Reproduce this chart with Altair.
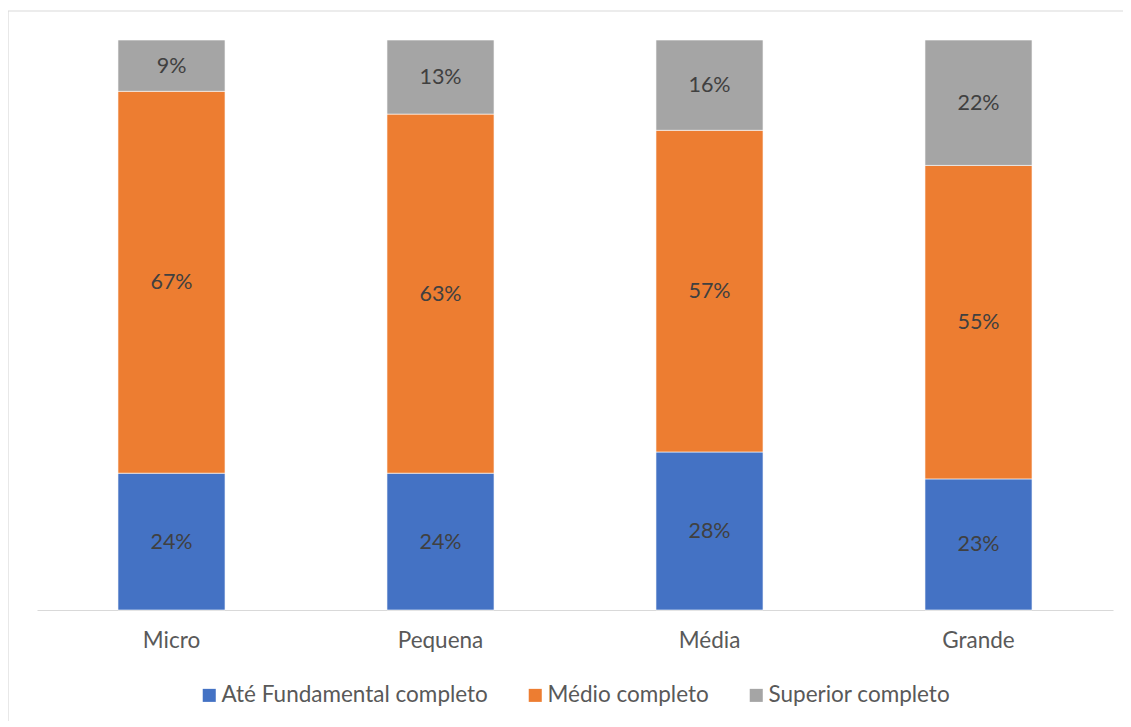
import altair as alt
import pandas as pd

categories = ["Micro", "Pequena", "Média", "Grande"]
series = ["Até Fundamental completo", "Médio completo", "Superior completo"]
ate_fundamental = [24, 24, 28, 23]
medio = [67, 63, 57, 55]
superior = [9, 13, 16, 22]
colors = ["#4472C4", "#ED7D31", "#A5A5A5"]

rows = []
for i, c in enumerate(categories):
    for j, (s, vals) in enumerate(zip(series, [ate_fundamental, medio, superior])):
        rows.append({"cat": c, "serie": s, "value": vals[i], "ord": j,
                     "label": f"{vals[i]}%"})
df = pd.DataFrame(rows)

FONT = "Lato"
W, H = 1076, 570
PR, PB = 10, 111

base = alt.Chart(df).transform_stack(
    stack="value", groupby=["cat"], as_=["y0", "y1"], offset="normalize",
    sort=[alt.SortField("ord", order="ascending")]
).transform_calculate(ym="(datum.y0 + datum.y1) / 2")

x_enc = alt.X("cat:N", sort=categories, title=None,
              scale=alt.Scale(paddingInner=0.602, paddingOuter=0.301),
              axis=alt.Axis(labelAngle=0, ticks=False, domainColor="#d9d9d9",
                            domainWidth=1.2, labelFontSize=22.5, labelColor="#595959",
                            labelFont=FONT, labelPadding=19))

bars = base.mark_bar(stroke="white", strokeWidth=0.6).encode(
    x=x_enc,
    y=alt.Y("y0:Q", axis=None, scale=alt.Scale(domain=[0, 1], nice=False)),
    y2="y1:Q",
    color=alt.Color("serie:N", sort=series,
                    scale=alt.Scale(domain=series, range=colors),
                    legend=alt.Legend(title=None, orient="none", direction="horizontal",
                                      legendX=161, legendY=644, symbolType="square",
                                      symbolSize=170, symbolStrokeWidth=0,
                                      labelFontSize=22.5, labelFont=FONT, labelLimit=500,
                                      labelColor="#595959", columnPadding=36,
                                      labelOffset=1)),
)

labels = base.mark_text(fontSize=21.5, font=FONT, color="#404040", dy=1).encode(
    x=alt.X("cat:N", sort=categories),
    y=alt.Y("ym:Q", scale=alt.Scale(domain=[0, 1], nice=False)),
    text="label:N",
)

border = alt.Chart(pd.DataFrame({"a": [0]})).mark_rect(
    fill=None, stroke="#d9d9d9", strokeWidth=1.2
).encode(
    x=alt.value(-29), x2=alt.value(W + PR + 10),
    y=alt.value(-29), y2=alt.value(H + PB + 10),
)

chart = alt.layer(border, bars, labels).properties(
    width=W, height=H,
    padding={"left": 29, "top": 32, "right": PR, "bottom": PB},
    autosize=alt.AutoSizeParams(type="none"),
).configure_view(stroke=None)

chart.save("out.html", embed_options={"renderer": "svg", "actions": False})
